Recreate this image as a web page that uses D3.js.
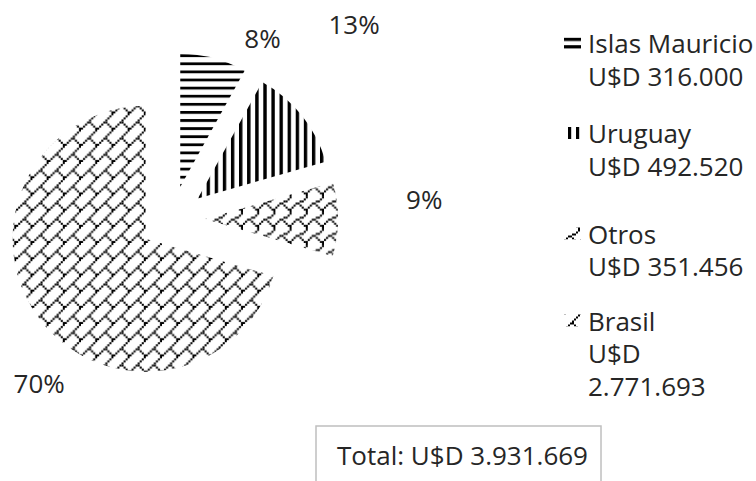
<!DOCTYPE html>
<html>
<head>
<meta charset="utf-8">
<script src="https://cdn.jsdelivr.net/npm/d3@7"></script>
<style>
  html, body { margin: 0; padding: 0; background: #fff; }
  svg { display: block; }
  text { font-family: "Open Sans", "Noto Sans", sans-serif; fill: #262626; }
</style>
</head>
<body>
<svg id="chart" width="756" height="481"></svg>
<script>
// Export destinations and amounts (U$D)
const categories = ["Islas Mauricio", "Uruguay", "Otros", "Brasil"];
const amounts = [316000, 492520, 351456, 2771693];
const currency = "U$D";
const totalLabel = "Total:";

// Layout
const W = 756, H = 481;
const center = [172, 219];
const radius = 133;
const explode = 33;
const fontSize = 26;
// percentage labels: polar placement around the pie centre (degrees clockwise from 12 o'clock, px)
const labelAngle = [26.6, 43.0, 85.5, 219.0];
const labelDist = [202, 267, 253, 211];
// legend
const legendSwatchX = 564, legendTextX = 588, legendMaxWidth = 172;
const legendFirstBaseline = [53, 143, 243.5, 330.5];
const legendLineHeight = 32.5;
// total box
const box = { x: 316, y: 426, w: 285, h: 70, textX: 337, baseline: 465 };

const svg = d3.select("#chart");
const defs = svg.append("defs");

const fmt = d3.formatLocale({ decimal: ",", thousands: ".", grouping: [3], currency: ["", ""] }).format(",d");

// ---- fill patterns (black on white) ----
function linePattern(id, horizontal, period, thick, phase) {
  const p = defs.append("pattern").attr("id", id)
    .attr("patternUnits", "userSpaceOnUse")
    .attr("width", period).attr("height", period)
    .attr(horizontal ? "y" : "x", phase);
  p.append("rect").attr("width", period).attr("height", period).attr("fill", "#fff");
  if (horizontal) p.append("rect").attr("x", 0).attr("y", 0).attr("width", period).attr("height", thick).attr("fill", "#000");
  else p.append("rect").attr("x", 0).attr("y", 0).attr("width", thick).attr("height", period).attr("fill", "#000");
  return p;
}
function bitmapPattern(id, rows, cell, ox, oy) {
  const s = cell * 8;
  const p = defs.append("pattern").attr("id", id)
    .attr("patternUnits", "userSpaceOnUse")
    .attr("width", s).attr("height", s).attr("x", ox).attr("y", oy);
  p.append("rect").attr("width", s).attr("height", s).attr("fill", "#fff");
  rows.forEach((bits, r) => {
    for (let c = 0; c < 8; c++) {
      if (bits & (0x80 >> c)) {
        p.append("rect").attr("x", c * cell).attr("y", r * cell)
          .attr("width", cell).attr("height", cell).attr("fill", "#000");
      }
    }
  });
  return p;
}
const shingleBits = [0x01, 0x01, 0x02, 0x0c, 0x30, 0x48, 0x84, 0x03];
const brickBits = [0x01, 0x02, 0x04, 0x08, 0x18, 0x24, 0x42, 0x81];

// ---- pie ----
const pie = d3.pie().sort(null).value(d => d)(amounts);
const arc = d3.arc().innerRadius(0).outerRadius(radius);
const total = d3.sum(amounts);
const unit = a => [Math.sin(a), -Math.cos(a)];

const apexes = pie.map(d => {
  const m = (d.startAngle + d.endAngle) / 2;
  const u = unit(m);
  return [center[0] + explode * u[0], center[1] + explode * u[1]];
});

// pattern definitions, phased in each slice's local space
linePattern("p0", true, 8.1, 2.8, 54.3 - apexes[0][1]);
linePattern("p1", false, 8.1, 3.4, 263.3 - apexes[1][0]);
bitmapPattern("p2", shingleBits, 2.025, 0 - apexes[2][0], 0 - apexes[2][1]);
bitmapPattern("p3", brickBits, 2.025, 0 - apexes[3][0], 0 - apexes[3][1]);

const slices = svg.append("g").attr("class", "slices");
pie.forEach((d, i) => {
  slices.append("g")
    .attr("transform", `translate(${apexes[i][0]},${apexes[i][1]})`)
    .append("path")
    .attr("d", arc(d))
    .attr("fill", `url(#p${i})`);
});

// percentage labels
const pct = d3.format(".0%");
const labels = svg.append("g").attr("class", "pct-labels");
pie.forEach((d, i) => {
  const u = unit(labelAngle[i] * Math.PI / 180);
  labels.append("text")
    .attr("x", center[0] + labelDist[i] * u[0])
    .attr("y", center[1] + labelDist[i] * u[1])
    .attr("text-anchor", "middle")
    .attr("dominant-baseline", "central")
    .attr("font-size", fontSize)
    .text(pct(d.value / total));
});

// ---- legend ----
const legend = svg.append("g").attr("class", "legend");
// swatch patterns, phased relative to each swatch
linePattern("s0", true, 7.4, 3.2, 0.8);
linePattern("s1", false, 8, 3.2, 4);
bitmapPattern("s2", shingleBits, 2, 0, 0);
bitmapPattern("s3", brickBits, 2, 0, 0);

function wrapWords(words) {
  const probe = legend.append("text").attr("font-size", fontSize);
  const lines = [];
  let cur = "";
  words.forEach(w => {
    const next = cur ? cur + " " + w : w;
    probe.text(next);
    if (cur && probe.node().getComputedTextLength() > legendMaxWidth) {
      lines.push(cur);
      cur = w;
    } else cur = next;
  });
  if (cur) lines.push(cur);
  probe.remove();
  return lines;
}

categories.forEach((name, i) => {
  const y0 = legendFirstBaseline[i];
  const sw = legend.append("g").attr("transform", `translate(${legendSwatchX},${y0 - 16})`);
  sw.append("rect").attr("width", 17).attr("height", 12).attr("fill", `url(#s${i})`);
  const lines = [name].concat(wrapWords([currency, fmt(amounts[i])]));
  lines.forEach((ln, k) => {
    legend.append("text")
      .attr("x", legendTextX)
      .attr("y", y0 + k * legendLineHeight)
      .attr("font-size", fontSize)
      .text(ln);
  });
});

// ---- total box ----
const tb = svg.append("g").attr("class", "total");
tb.append("rect")
  .attr("x", box.x).attr("y", box.y).attr("width", box.w).attr("height", box.h)
  .attr("fill", "#fff").attr("stroke", "#bfbfbf").attr("stroke-width", 1.5);
tb.append("text")
  .attr("x", box.textX).attr("y", box.baseline)
  .attr("font-size", fontSize)
  .text(`${totalLabel} ${currency} ${fmt(total)}`);
</script>
</body>
</html>
